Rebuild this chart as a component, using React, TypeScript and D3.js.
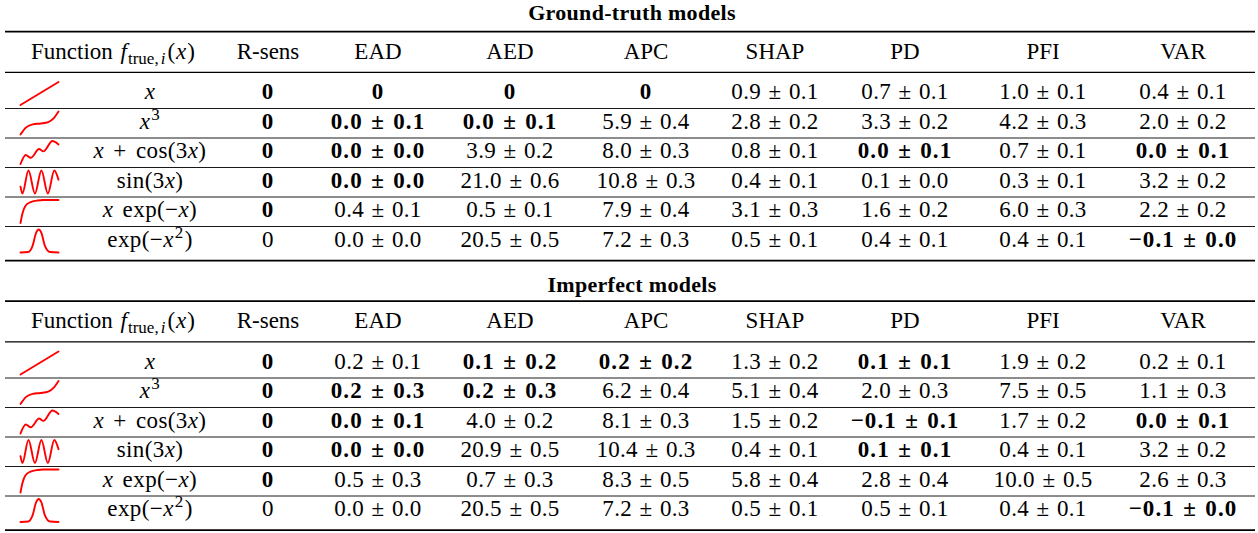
import * as d3 from "d3";

// two blocks of the table: ground-truth and imperfect models
const TITLES = ["Ground-truth models", "Imperfect models"];
const COLUMNS = ["R-sens", "EAD", "AED", "APC", "SHAP", "PD", "PFI", "VAR"];
const FUNCTIONS = ["x", "x3", "xcos", "sin", "xexp", "gauss"];

// "*" marks a bold (best) entry
const GT_RSENS = ["*0", "*0", "*0", "*0", "*0", "0"];
const GT_EAD = ["*0", "*0.0 ± 0.1", "*0.0 ± 0.0", "*0.0 ± 0.0", "0.4 ± 0.1", "0.0 ± 0.0"];
const GT_AED = ["*0", "*0.0 ± 0.1", "3.9 ± 0.2", "21.0 ± 0.6", "0.5 ± 0.1", "20.5 ± 0.5"];
const GT_APC = ["*0", "5.9 ± 0.4", "8.0 ± 0.3", "10.8 ± 0.3", "7.9 ± 0.4", "7.2 ± 0.3"];
const GT_SHAP = ["0.9 ± 0.1", "2.8 ± 0.2", "0.8 ± 0.1", "0.4 ± 0.1", "3.1 ± 0.3", "0.5 ± 0.1"];
const GT_PD = ["0.7 ± 0.1", "3.3 ± 0.2", "*0.0 ± 0.1", "0.1 ± 0.0", "1.6 ± 0.2", "0.4 ± 0.1"];
const GT_PFI = ["1.0 ± 0.1", "4.2 ± 0.3", "0.7 ± 0.1", "0.3 ± 0.1", "6.0 ± 0.3", "0.4 ± 0.1"];
const GT_VAR = ["0.4 ± 0.1", "2.0 ± 0.2", "*0.0 ± 0.1", "3.2 ± 0.2", "2.2 ± 0.2", "*−0.1 ± 0.0"];

const IM_RSENS = ["*0", "*0", "*0", "*0", "*0", "0"];
const IM_EAD = ["0.2 ± 0.1", "*0.2 ± 0.3", "*0.0 ± 0.1", "*0.0 ± 0.0", "0.5 ± 0.3", "0.0 ± 0.0"];
const IM_AED = ["*0.1 ± 0.2", "*0.2 ± 0.3", "4.0 ± 0.2", "20.9 ± 0.5", "0.7 ± 0.3", "20.5 ± 0.5"];
const IM_APC = ["*0.2 ± 0.2", "6.2 ± 0.4", "8.1 ± 0.3", "10.4 ± 0.3", "8.3 ± 0.5", "7.2 ± 0.3"];
const IM_SHAP = ["1.3 ± 0.2", "5.1 ± 0.4", "1.5 ± 0.2", "0.4 ± 0.1", "5.8 ± 0.4", "0.5 ± 0.1"];
const IM_PD = ["*0.1 ± 0.1", "2.0 ± 0.3", "*−0.1 ± 0.1", "*0.1 ± 0.1", "2.8 ± 0.4", "0.5 ± 0.1"];
const IM_PFI = ["1.9 ± 0.2", "7.5 ± 0.5", "1.7 ± 0.2", "0.4 ± 0.1", "10.0 ± 0.5", "0.4 ± 0.1"];
const IM_VAR = ["0.2 ± 0.1", "1.1 ± 0.3", "*0.0 ± 0.1", "3.2 ± 0.2", "2.6 ± 0.3", "*−0.1 ± 0.0"];

const GT_TABLE = [GT_RSENS, GT_EAD, GT_AED, GT_APC, GT_SHAP, GT_PD, GT_PFI, GT_VAR];
const IM_TABLE = [IM_RSENS, IM_EAD, IM_AED, IM_APC, IM_SHAP, IM_PD, IM_PFI, IM_VAR];

// little red curves, points (0..1 in both directions)
const ICON_LINE = [[0, 0], [1, 1]];
const ICON_CUBIC = [[0, 0], [0.14, 0.3], [0.32, 0.44], [0.53, 0.48], [0.73, 0.54], [0.87, 0.7], [1, 1]];
const ICON_WAVE = [[0, 0], [0.14, 0.39], [0.27, 0.27], [0.49, 0.65], [0.6, 0.55], [0.84, 1], [1, 0.85]];
const ICON_SIN = [[0, 0.3], [0.05, 0], [0.21, 1], [0.38, 0], [0.55, 1], [0.72, 0], [0.89, 1], [1, 0.6]];
const ICON_SAT = [[0, 0], [0.05, 0.4], [0.12, 0.72], [0.25, 0.9], [0.45, 0.98], [0.6, 1], [1, 1]];
const ICON_GAUSS = [[0, 0], [0.2, 0.02], [0.32, 0.3], [0.41, 0.85], [0.48, 1], [0.55, 0.85], [0.64, 0.3], [0.78, 0.02], [1, 0]];
const ICONS = [ICON_LINE, ICON_CUBIC, ICON_WAVE, ICON_SIN, ICON_SAT, ICON_GAUSS];

const W = 1258;
const H = 533;
const FONT = "Liberation Serif, Times New Roman, Times, DejaVu Serif, serif";
const FS = 23;
const SUB = 17;

const colX = d3.scaleOrdinal<string, number>()
  .domain(COLUMNS)
  .range([268, 378, 510, 646, 775, 905, 1043, 1183]);

const rowY = d3.scaleLinear().domain([0, 1]).range([99, 128.5]); // baseline of row i

const iconX = d3.scaleLinear().domain([0, 1]).range([20.5, 58.5]);

function FuncLabel({ k }: { k: string }) {
  const it = (s: string) => <tspan fontStyle="italic">{s}</tspan>;
  if (k === "x") return <>{it("x")}</>;
  if (k === "x3") return <>{it("x")}<tspan fontSize={SUB} dy={-9} dx={1}>3</tspan></>;
  if (k === "xcos") return <>{it("x")} + cos(3{it("x")})</>;
  if (k === "sin") return <>sin(3{it("x")})</>;
  if (k === "xexp") return <>{it("x")} exp(−{it("x")})</>;
  return <>exp(−{it("x")}<tspan fontSize={SUB} dy={-9} dx={1}>2</tspan><tspan dy={9} dx={1}>)</tspan></>;
}

function Cell({ v, x, y }: { v: string; x: number; y: number }) {
  const bold = v.startsWith("*");
  const s = bold ? v.slice(1) : v;
  return (
    <text x={x} y={y} textAnchor="middle" fontSize={FS}
      style={{ fontFamily: FONT, fontWeight: bold ? 700 : 400, letterSpacing: bold ? 1.1 : 0.3, wordSpacing: 1.5 }}>
      {s}
    </text>
  );
}

function Block({ title, table, dy, titleY }: { title: string; table: string[][]; dy: number; titleY: number }) {
  const line = d3.line<number[]>().curve(d3.curveMonotoneX).x(d => iconX(d[0]));
  const n = FUNCTIONS.length;
  return (
    <g transform={`translate(0,${dy})`} style={{ fontFamily: FONT }}>
      <text x={632} y={titleY} textAnchor="middle" fontSize={22} fontWeight="bold" style={{ letterSpacing: 0.3 }}>{title}</text>
      <line x1={5} x2={1255} y1={31.7} y2={31.7} stroke="#000" strokeWidth={1.8} />
      <text x={113} y={58.7} textAnchor="middle" fontSize={FS}>
        Function <tspan fontStyle="italic" dx={2}>f</tspan>
        <tspan fontSize={SUB} dy={5} dx={1}>true,</tspan><tspan fontSize={SUB} fontStyle="italic" dx={2}>i</tspan>
        <tspan dy={-5} dx={2}>(</tspan><tspan fontStyle="italic" dx={1}>x</tspan><tspan dx={1}>)</tspan>
      </text>
      {COLUMNS.map(c => (
        <text key={c} x={colX(c)} y={58.7} textAnchor="middle" fontSize={FS}>{c}</text>
      ))}
      <line x1={5} x2={1255} y1={72.3} y2={72.3} stroke="#000" strokeWidth={1.15} />
      {FUNCTIONS.map((f, i) => {
        const base = rowY(i);
        const iy = d3.scaleLinear().domain([0, 1]).range([base + 6, base - 17]);
        line.y(d => iy(d[1]));
        return (
          <g key={f}>
            <path d={line(ICONS[i] as number[][]) || ""} fill="none" stroke="#ff0000" strokeWidth={1.9} strokeLinecap="round" />
            <text x={150} y={base} textAnchor="middle" fontSize={FS} style={{ wordSpacing: 3, letterSpacing: 0.4 }}>
              <FuncLabel k={f} />
            </text>
            {COLUMNS.map((c, j) => (
              <Cell key={c} v={table[j][i]} x={colX(c)} y={base} />
            ))}
            {i < n - 1 && (
              <line x1={5} x2={1255} y1={base + 9.5} y2={base + 9.5} stroke="#000" strokeWidth={0.9} />
            )}
          </g>
        );
      })}
      <line x1={5} x2={1255} y1={260.7} y2={260.7} stroke="#000" strokeWidth={1.8} />
    </g>
  );
}

export default function App() {
  return (
    <svg width={W} height={H} style={{ position: "absolute", left: 0, top: 0, background: "#fff" }}>
      <Block title={TITLES[0]} table={GT_TABLE} dy={0} titleY={20} />
      <Block title={TITLES[1]} table={IM_TABLE} dy={269.5} titleY={22} />
    </svg>
  );
}
